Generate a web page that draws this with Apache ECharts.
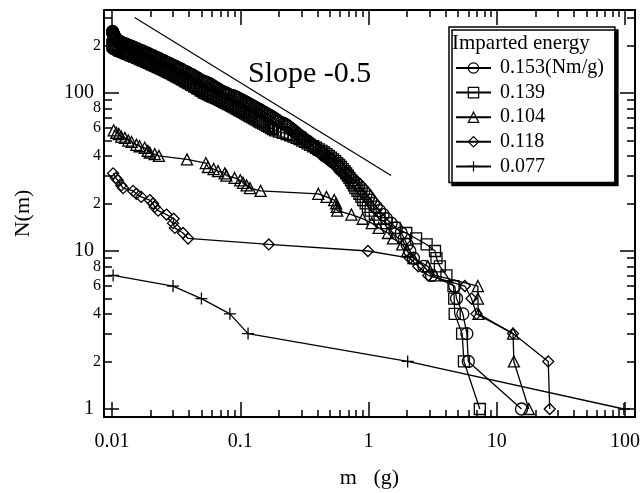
<!DOCTYPE html>
<html><head><meta charset="utf-8">
<script src="https://cdn.jsdelivr.net/npm/echarts@6/dist/echarts.min.js"></script>
<style>html,body{margin:0;padding:0;background:#fff}#c{width:644px;height:493px}</style>
</head><body><div id="c"></div>
<script>
const seriesNames = ['0.153(Nm/g)', '0.139', '0.104', '0.118', '0.077'];
const legendTitle = 'Imparted energy';
const slopeText = 'Slope -0.5';
const xName = 'm   (g)';
const yName = 'N(m)';

const xMajorTicks = [0.01, 0.1, 1, 10, 100];
const xMajorLabels = ['0.01', '0.1', '1', '10', '100'];
const xMinorTicks = [0.02,0.03,0.04,0.05,0.06,0.07,0.08,0.09,0.2,0.3,0.4,0.5,0.6,0.7,0.8,0.9,2,3,4,5,6,7,8,9,20,30,40,50,60,70,80,90];
const yMajorTicks = [1, 10, 100];
const yMajorLabels = ['1', '10', '100'];
const yMinorTicks = [2,3,4,5,6,7,8,9,20,30,40,50,60,70,80,90,200,300];
const yMinorLabelValues = [2,4,6,8,20,40,60,80,200];
const yMinorLabels = ['2','4','6','8','2','4','6','8','2'];

const c153 = [[0.0101,245],[0.0101,243],[0.0101,241],[0.0102,239],[0.0102,237],[0.0103,235],[0.0103,233],[0.0104,231],[0.0104,229],[0.0105,227],[0.0105,225],[0.0106,223],[0.0107,221],[0.0108,219],[0.0109,217],[0.0111,215],[0.0112,214],[0.0114,212],[0.0116,211],[0.0118,209],[0.012,208],[0.0122,206],[0.0125,205],[0.0128,204],[0.013,203],[0.0133,201],[0.0136,200],[0.0139,198],[0.0142,197],[0.0145,196],[0.0148,194],[0.0151,192],[0.0155,191],[0.0158,190],[0.0162,188],[0.0166,186],[0.017,185],[0.0174,184],[0.0178,182],[0.0182,180],[0.0186,179],[0.0191,178],[0.0195,176],[0.02,174],[0.0204,173],[0.0209,172],[0.0214,170],[0.0219,168],[0.0224,167],[0.023,166],[0.0235,164],[0.0241,162],[0.0247,161],[0.0253,160],[0.026,158],[0.0266,156],[0.0273,155],[0.028,154],[0.0287,152],[0.0295,150],[0.0302,149],[0.031,148],[0.0318,146],[0.0326,144],[0.0335,143],[0.0344,142],[0.0353,140],[0.0362,138],[0.0372,137],[0.0382,136],[0.0392,134],[0.0402,132],[0.0413,131],[0.0424,130],[0.0436,128],[0.0448,126],[0.046,125],[0.0472,123],[0.0485,121],[0.0498,120],[0.0512,119],[0.0526,118],[0.054,117],[0.0555,116],[0.057,115],[0.0586,113],[0.0602,112],[0.0619,110],[0.0636,109],[0.0654,107],[0.0672,106],[0.069,104],[0.071,103],[0.073,102],[0.075,101],[0.077,100],[0.079,99],[0.081,98],[0.0835,97],[0.088,96],[0.0905,95],[0.093,94],[0.0955,93],[0.098,92],[0.1005,91],[0.103,90],[0.106,89],[0.109,88],[0.112,87],[0.115,86],[0.118,85],[0.121,84],[0.1245,83],[0.128,82],[0.1315,81],[0.135,80],[0.139,79],[0.143,78],[0.147,77],[0.151,76],[0.1555,75],[0.16,74],[0.165,73],[0.17,72],[0.175,71],[0.18,70],[0.185,69],[0.19,68],[0.195,67],[0.2,66],[0.21,65],[0.22,64],[0.226,63],[0.232,62],[0.238,61],[0.245,60],[0.252,59],[0.258,58],[0.265,57],[0.272,56],[0.28,55],[0.287,54],[0.3,53],[0.307,52],[0.315,51],[0.33,50],[0.34,49],[0.35,48],[0.36,47],[0.37,46],[0.38,45],[0.39,44],[0.41,43],[0.43,42],[0.44,41],[0.455,40],[0.48,39],[0.5,38],[0.52,37],[0.545,36],[0.57,35],[0.585,34],[0.6,33],[0.63,32],[0.66,31],[0.69,30],[0.72,29],[0.76,28],[0.8,27],[0.84,26],[0.88,25],[0.92,24],[0.96,23],[1.0,22],[1.04,21],[1.09,20],[1.15,19],[1.22,18],[1.3,17],[1.38,16],[1.5,15],[1.65,14],[1.8,13],[1.9,12],[2.0,11],[2.1,10],[2.24,9],[2.7,8],[3.1,7],[4.7,6],[4.86,5],[5.44,4],[5.85,3],[6.0,2],[15.6,1]];
const s139 = [[0.0101,203],[0.0101,201],[0.0102,199],[0.0103,197],[0.0104,196],[0.0105,194],[0.0107,193],[0.0108,191],[0.011,190],[0.0112,188],[0.0114,187],[0.0116,185],[0.0119,184],[0.0122,182],[0.0125,181],[0.0128,179],[0.0131,178],[0.0134,176],[0.0138,175],[0.0141,173],[0.0145,172],[0.0149,170],[0.0153,169],[0.0157,167],[0.0161,166],[0.0165,164],[0.017,163],[0.0174,161],[0.0179,160],[0.0184,158],[0.0189,157],[0.0194,155],[0.0199,154],[0.0204,152],[0.021,151],[0.0215,149],[0.0221,148],[0.0227,146],[0.0233,145],[0.024,143],[0.0246,142],[0.0253,140],[0.026,139],[0.0267,137],[0.0274,136],[0.0282,134],[0.029,133],[0.0298,131],[0.0306,130],[0.0314,128],[0.0323,127],[0.0332,125],[0.0341,124],[0.035,122],[0.036,121],[0.037,119],[0.038,118],[0.0391,116],[0.0402,115],[0.0413,113],[0.0425,112],[0.0437,110],[0.045,109],[0.0463,107],[0.0476,106],[0.049,104],[0.0503,103],[0.0517,101],[0.0532,100],[0.0547,99],[0.0562,98],[0.0578,97],[0.0594,96],[0.061,95],[0.0628,94],[0.0646,93],[0.0664,92],[0.0683,91],[0.0702,90],[0.0722,89],[0.0742,88],[0.0763,87],[0.0784,86],[0.0807,85],[0.083,84],[0.0854,83],[0.0878,82],[0.0903,81],[0.0928,80],[0.0954,79],[0.098,78],[0.101,77],[0.104,76],[0.107,75],[0.11,74],[0.1135,73],[0.117,72],[0.1205,71],[0.124,70],[0.128,69],[0.132,68],[0.1365,67],[0.141,66],[0.146,65],[0.151,64],[0.1565,63],[0.162,62],[0.168,61],[0.174,60],[0.18,59],[0.187,58],[0.2,57],[0.215,56],[0.23,55],[0.245,54],[0.26,53],[0.275,52],[0.29,51],[0.305,50],[0.32,49],[0.335,48],[0.35,47],[0.37,46],[0.39,45],[0.41,44],[0.43,43],[0.45,42],[0.47,41],[0.49,40],[0.51,39],[0.53,38],[0.55,37],[0.57,36],[0.59,35],[0.61,34],[0.63,33],[0.65,32],[0.67,31],[0.69,30],[0.71,29],[0.73,28],[0.75,27],[0.77,26],[0.79,25],[0.82,24],[0.85,23],[0.88,22],[0.91,21],[0.95,20],[0.99,19],[1.04,18],[1.12,17],[1.22,16],[1.38,15],[1.6,14],[1.97,13],[2.35,12],[2.84,11],[3.3,10],[3.39,9],[3.6,8],[4.05,7],[4.6,6],[4.66,5],[4.7,4],[5.37,3],[5.55,2],[7.38,1]];
const t104 = [[0.0103,58],[0.0108,56],[0.0113,55],[0.0118,53],[0.0126,52],[0.0134,50],[0.0142,49],[0.0155,47],[0.0164,46],[0.018,45],[0.019,43],[0.0197,42],[0.0215,41],[0.0232,40],[0.0384,38],[0.0539,36],[0.056,34],[0.062,33],[0.0671,32],[0.0757,31],[0.078,30],[0.0903,29],[0.1,28],[0.105,27],[0.112,26],[0.119,25],[0.144,24],[0.406,23],[0.47,22],[0.54,21],[0.56,20],[0.565,19],[0.57,18],[0.736,17],[0.9,16],[1.06,15],[1.2,14],[1.42,13],[1.55,12],[1.83,11],[2.0,10],[2.24,9],[2.9,8],[3.3,7],[7.13,6],[7.13,5],[7.2,4],[13.4,3],[13.6,2],[17.8,1]];
const d118 = [[0.0102,31],[0.0107,29],[0.0111,28],[0.0118,26],[0.0122,25],[0.0146,24],[0.0155,23],[0.0169,22],[0.0197,21],[0.0209,20],[0.0215,19],[0.0229,18],[0.0266,17],[0.0303,16],[0.0299,15],[0.0309,14],[0.0358,13],[0.0392,12],[0.167,11],[0.99,10],[2.1,9],[2.44,8],[2.92,7],[5.64,6],[6.35,5],[6.95,4],[13.4,3],[25.2,2],[25.9,1]];
const p077 = [[0.0102,7],[0.0299,6],[0.0498,5],[0.083,4],[0.115,3],[2.02,2],[98,1]];
const slopeLine = [[0.015,300],[1.5,30]];

const X_MIN = 0.00866, X_MAX = 119.7, Y_MIN = 0.89, Y_MAX = 335;
const FONT = 'Liberation Serif';

function lookup(ticks, labels) {
  return function (v) {
    for (let i = 0; i < ticks.length; i++) {
      if (Math.abs(ticks[i] / v - 1) < 1e-6) return labels[i];
    }
    return '';
  };
}

function xAx(pos, major, showLine) {
  return {
    type: 'log', logBase: 10, min: X_MIN, max: X_MAX, position: pos, gridIndex: 0,
    axisLine: { show: showLine, onZero: false, lineStyle: { color: '#000', width: 2 } },
    axisTick: { show: true, inside: true, length: major ? 15 : 7, customValues: major ? xMajorTicks : xMinorTicks, lineStyle: { color: '#000', width: 1.5 } },
    axisLabel: { show: false },
    splitLine: { show: false }, minorTick: { show: false }, minorSplitLine: { show: false }
  };
}
function yAx(pos, major, showLine) {
  return {
    type: 'log', logBase: 10, min: Y_MIN, max: Y_MAX, position: pos, gridIndex: 0,
    axisLine: { show: showLine, onZero: false, lineStyle: { color: '#000', width: 2 } },
    axisTick: { show: true, inside: true, length: major ? 15 : 8, customValues: major ? yMajorTicks : yMinorTicks, lineStyle: { color: '#000', width: 1.5 } },
    axisLabel: { show: false },
    splitLine: { show: false }, minorTick: { show: false }, minorSplitLine: { show: false }
  };
}

const xBottomMajor = xAx('bottom', true, true);
xBottomMajor.axisLabel = { show: true, customValues: xMajorTicks, formatter: lookup(xMajorTicks, xMajorLabels), fontFamily: FONT, fontSize: 20, color: '#000', margin: 15 };
xBottomMajor.name = xName;
xBottomMajor.nameLocation = 'middle';
xBottomMajor.nameGap = 50;
xBottomMajor.nameTextStyle = { fontFamily: FONT, fontSize: 22, color: '#000' };

const yLeftMajor = yAx('left', true, true);
yLeftMajor.axisLabel = { show: true, customValues: yMajorTicks, formatter: lookup(yMajorTicks, yMajorLabels), fontFamily: FONT, fontSize: 20, color: '#000', margin: 10 };
yLeftMajor.name = yName;
yLeftMajor.nameLocation = 'middle';
yLeftMajor.nameGap = 70;
yLeftMajor.nameTextStyle = { fontFamily: FONT, fontSize: 22, color: '#000' };

const yLeftMinor = yAx('left', false, false);
yLeftMinor.axisLabel = { show: true, customValues: yMinorLabelValues, formatter: lookup(yMinorLabelValues, yMinorLabels), fontFamily: FONT, fontSize: 16, color: '#000', margin: 3 };

function mk(name, data, symbol, size, bw) {
  return {
    name: name, type: 'line', data: data, symbol: symbol, symbolSize: size, showSymbol: true, symbolKeepAspect: true,
    xAxisIndex: 0, yAxisIndex: 0,
    lineStyle: { color: '#000', width: 1.3 },
    itemStyle: { color: 'rgba(0,0,0,0)', borderColor: '#000', borderWidth: bw },
    emphasis: { disabled: true }, animation: false, z: 3
  };
}

const chart = echarts.init(document.getElementById('c'), null, { renderer: 'canvas' });
chart.setOption({
  backgroundColor: '#fff',
  animation: false,
  grid: { left: 104, right: 9, top: 10, bottom: 76, outerBoundsMode: 'none', containLabel: false },
  xAxis: [xBottomMajor, xAx('bottom', false, false), xAx('top', true, true), xAx('top', false, false)],
  yAxis: [yLeftMajor, yLeftMinor, yAx('right', true, true), yAx('right', false, false)],
  legend: {
    orient: 'vertical', left: 449, top: 27,
    padding: [31, 11, 6, 6], itemGap: 4.6, itemWidth: 35, itemHeight: 13,
    data: seriesNames, selectedMode: false,
    textStyle: { fontFamily: FONT, fontSize: 20, color: '#000', lineHeight: 20, padding: [0, 0, 0, 4] },
    itemStyle: { borderWidth: 1.2 },
    backgroundColor: '#fff', borderColor: '#000', borderWidth: 1.5, borderRadius: 0,
    shadowColor: '#000', shadowBlur: 0, shadowOffsetX: 3, shadowOffsetY: 3
  },
  graphic: [
    { type: 'text', left: 452, top: 33, z: 100, style: { text: legendTitle, font: '21px "Liberation Serif"', fill: '#000' } },
    { type: 'text', left: 248, top: 59, z: 100, style: { text: slopeText, font: '30px "Liberation Serif"', fill: '#000' } }
  ],
  series: [
    mk(seriesNames[0], c153, 'circle', 12, 1.3),
    mk(seriesNames[1], s139, 'rect', 11, 1.3),
    mk(seriesNames[2], t104, 'triangle', 11, 1.3),
    mk(seriesNames[3], d118, 'diamond', 11, 1.3),
    mk(seriesNames[4], p077, 'path://M5,0L5,10M0,5L10,5', 12, 1.3),
    { name: 'slope', type: 'line', data: slopeLine, symbol: 'none', lineStyle: { color: '#000', width: 1.2 }, emphasis: { disabled: true }, animation: false, z: 2 }
  ]
});
</script></body></html>
